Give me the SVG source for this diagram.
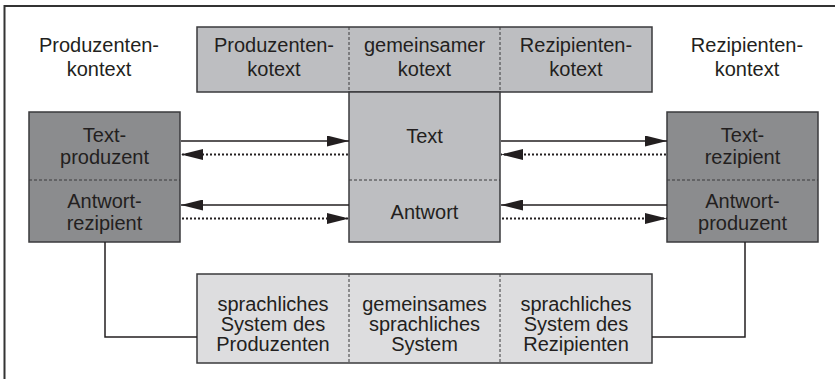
<svg xmlns="http://www.w3.org/2000/svg" width="835" height="379" viewBox="0 0 835 379">
<defs>
<marker id="ah" viewBox="0 0 22 11" refX="22" refY="5.5" markerWidth="22" markerHeight="11" markerUnits="userSpaceOnUse" orient="auto-start-reverse">
<path d="M0,0 L22,5.5 L0,11 Z" fill="#231f20"/>
</marker>
<style>
.t{font-family:"Liberation Sans",Arial,sans-serif;font-size:20px;fill:#231f20;text-anchor:middle}
.box{stroke:#3a3a3c;stroke-width:1.5}
.light{fill:#bdbec1}
.dark{fill:#8b8c8e}
.pale{fill:#dddddf}
.div{stroke:#3a3a3c;stroke-width:1;stroke-dasharray:3 2;fill:none}
.solid{stroke:#231f20;stroke-width:1.6;fill:none}
.dot{stroke:#231f20;stroke-width:2;stroke-dasharray:2 2;fill:none}
.conn{stroke:#231f20;stroke-width:1.5;fill:none}
</style>
</defs>
<rect width="835" height="379" fill="#ffffff"/>
<path d="M4.5,379 L4.5,6 L835,6" fill="none" stroke="#333" stroke-width="2"/>

<g id="produzentenkontext">
<text class="t" x="99" y="52">Produzenten-</text>
<text class="t" x="99" y="76">kontext</text>
</g>
<g id="rezipientenkontext">
<text class="t" x="747" y="52">Rezipienten-</text>
<text class="t" x="747" y="76">kontext</text>
</g>

<g id="kotext">
<rect class="box light" x="197" y="27" width="455" height="65"/>
<line class="div" x1="349" y1="27" x2="349" y2="92"/>
<line class="div" x1="500" y1="27" x2="500" y2="92"/>
<text class="t" x="274" y="52">Produzenten-</text>
<text class="t" x="274" y="76">kotext</text>
<text class="t" x="424.5" y="52">gemeinsamer</text>
<text class="t" x="424.5" y="76">kotext</text>
<text class="t" x="576" y="52">Rezipienten-</text>
<text class="t" x="576" y="76">kotext</text>
</g>

<g id="text-antwort">
<rect class="box light" x="349" y="92" width="151" height="150"/>
<line class="div" x1="349" y1="180" x2="500" y2="180"/>
<text class="t" x="424.5" y="143">Text</text>
<text class="t" x="424.5" y="219">Antwort</text>
</g>

<g id="produzent">
<rect class="box dark" x="29" y="112" width="151" height="130"/>
<line class="div" x1="29" y1="180" x2="180" y2="180"/>
<text class="t" x="104.5" y="141.5">Text-</text>
<text class="t" x="104.5" y="163.5">produzent</text>
<text class="t" x="104.5" y="207.5">Antwort-</text>
<text class="t" x="104.5" y="229.5">rezipient</text>
</g>

<g id="rezipient">
<rect class="box dark" x="667" y="112" width="151" height="130"/>
<line class="div" x1="667" y1="180" x2="818" y2="180"/>
<text class="t" x="742.5" y="141.5">Text-</text>
<text class="t" x="742.5" y="163.5">rezipient</text>
<text class="t" x="742.5" y="207.5">Antwort-</text>
<text class="t" x="742.5" y="229.5">produzent</text>
</g>

<g id="sprachsystem">
<rect class="box pale" x="197" y="274" width="455" height="89"/>
<line class="div" x1="349" y1="274" x2="349" y2="363"/>
<line class="div" x1="500" y1="274" x2="500" y2="363"/>
<text class="t" x="273" y="311">sprachliches</text>
<text class="t" x="273" y="331">System des</text>
<text class="t" x="273" y="351">Produzenten</text>
<text class="t" x="424.5" y="311">gemeinsames</text>
<text class="t" x="424.5" y="331">sprachliches</text>
<text class="t" x="424.5" y="351">System</text>
<text class="t" x="576" y="311">sprachliches</text>
<text class="t" x="576" y="331">System des</text>
<text class="t" x="576" y="351">Rezipienten</text>
</g>

<g id="connectors">
<line class="solid" x1="181" y1="141" x2="349" y2="141" marker-end="url(#ah)"/>
<line class="dot" x1="348" y1="154.5" x2="181" y2="154.5" marker-end="url(#ah)"/>
<line class="solid" x1="501" y1="141" x2="667" y2="141" marker-end="url(#ah)"/>
<line class="dot" x1="666" y1="154.5" x2="501" y2="154.5" marker-end="url(#ah)"/>
<line class="solid" x1="349" y1="205" x2="181" y2="205" marker-end="url(#ah)"/>
<line class="dot" x1="182" y1="218.5" x2="349" y2="218.5" marker-end="url(#ah)"/>
<line class="solid" x1="667" y1="205" x2="501" y2="205" marker-end="url(#ah)"/>
<line class="dot" x1="502" y1="218.5" x2="667" y2="218.5" marker-end="url(#ah)"/>
<polyline class="conn" points="105,242 105,337 197,337"/>
<polyline class="conn" points="745,242 745,337 652,337"/>
</g>
</svg>
